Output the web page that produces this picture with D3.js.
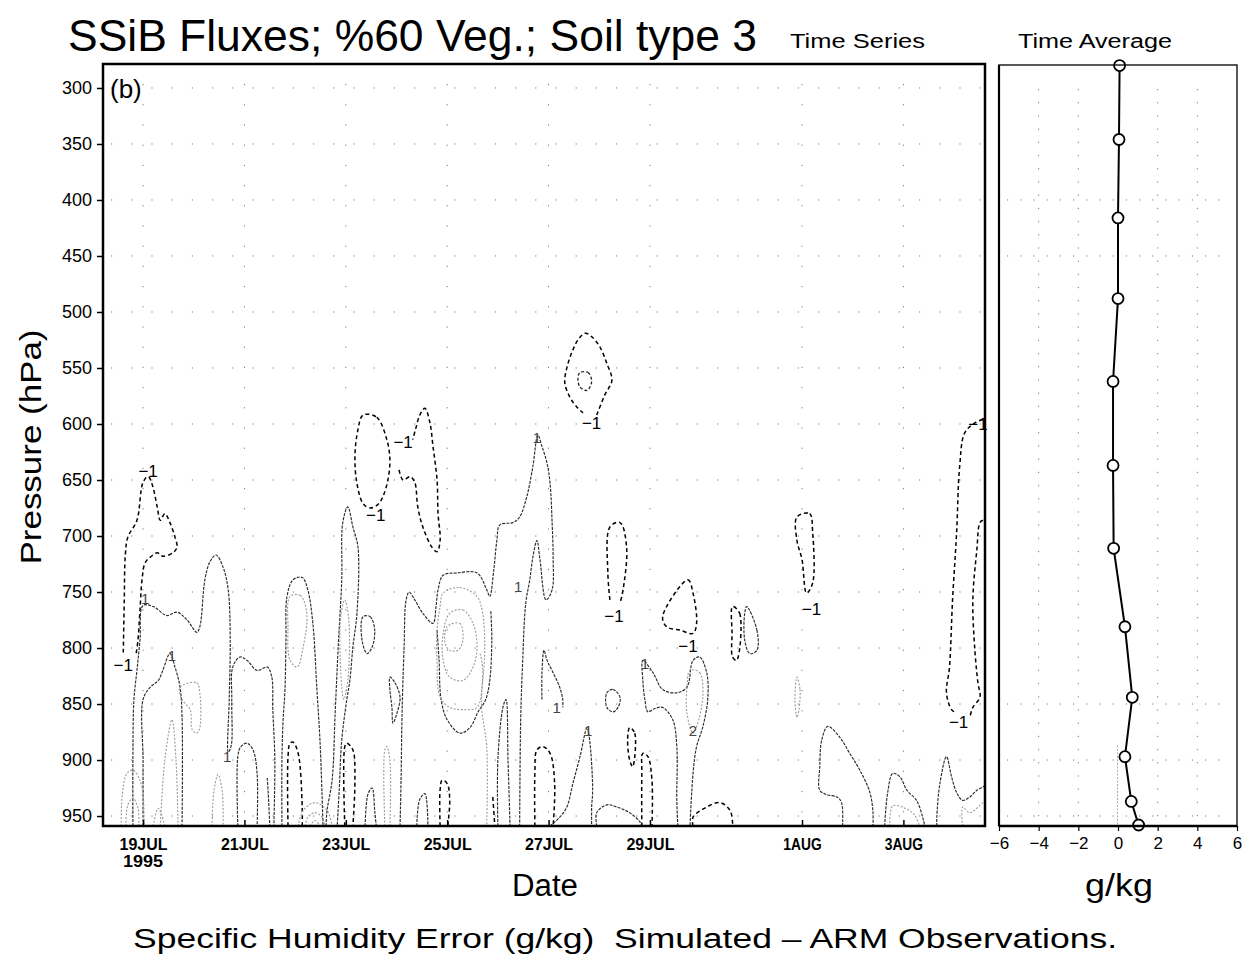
<!DOCTYPE html>
<html><head><meta charset="utf-8">
<script src="https://cdn.jsdelivr.net/npm/d3@7"></script>
<style>body{margin:0;background:#fff}svg{display:block}text{font-family:"Liberation Sans",Arial,sans-serif;fill:#000}</style>
</head><body><svg id="c" width="1252" height="972"></svg>
<script>
// ---------- data ----------
const pressureTicks = [300,350,400,450,500,550,600,650,700,750,800,850,900,950];
const dateTickDays = [19,21,23,25,27,29,32,34];           // day of July 1995 (32 = 1 Aug)
const dateTickLabels = ["19JUL","21JUL","23JUL","25JUL","27JUL","29JUL","1AUG","3AUG"];
const profileLevels = [280,346,416,488,562,637,711,781,844,897,937,958];
const profileValues = [0.08,0.05,0.0,0.0,-0.25,-0.25,-0.22,0.35,0.72,0.35,0.67,1.04];
const profileTicks = [-6,-4,-2,0,2,4,6];
const profileGridX = [-4,-2,2,4];
const profileGridP = [400,450,850,900,950];

// contour lines of the error field: [day of July, hPa]
const contours = [
 {level:-1, pts:[[18.61,804],[18.63,757],[18.65,717],[18.70,701],[18.88,686],[19.00,652],[19.10,647],[19.18,654],[19.28,674],[19.34,686],[19.43,680],[19.53,688],[19.63,701],[19.67,710],[19.59,715],[19.39,718],[19.28,715],[19.14,719],[19.04,724],[18.98,739],[18.94,766],[18.90,793],[18.86,806]]},
 {level:1, pts:[[18.80,959],[18.80,900],[18.82,846],[18.88,820],[18.94,793],[19.00,762],[19.20,763],[19.47,771],[19.67,768],[19.87,775],[20.06,786],[20.12,781],[20.22,739],[20.32,723],[20.44,717],[20.58,728],[20.68,748],[20.72,793],[20.70,846],[20.68,893],[20.74,887],[20.75,846],[20.77,817],[20.91,808],[21.05,811],[21.25,820],[21.45,817],[21.54,826],[21.56,855],[21.60,900],[21.58,959]]},
 {level:1, pts:[[19.00,959],[19.00,900],[19.00,846],[19.14,835],[19.30,829],[19.39,820],[19.53,805],[19.63,817],[19.73,835],[19.77,862],[19.77,959]]},
 {level:2, closed:true, pts:[[19.73,835],[20.06,831],[20.12,840],[20.12,871],[20.06,876],[19.97,873],[19.93,855],[19.77,846]]},
 {level:2, pts:[[18.57,959],[18.59,931],[18.68,912],[18.80,909],[18.92,916],[19.00,931],[19.02,959]]},
 {level:2, pts:[[18.66,959],[18.70,940],[18.80,934],[18.90,943],[18.92,959]]},
 {level:2, pts:[[19.20,959],[19.30,943],[19.43,959]]},
 {level:2, pts:[[19.34,959],[19.43,900],[19.57,864],[19.65,900],[19.69,959]]},
 {level:2, pts:[[20.36,959],[20.40,927],[20.48,913],[20.56,927],[20.58,959]]},
 {level:1, pts:[[20.87,959],[20.87,897],[20.93,888],[21.05,885],[21.17,891],[21.25,912],[21.25,959]]},
 {level:1, pts:[[21.45,916],[21.47,930],[21.50,959]]},
 {level:-1, pts:[[21.86,959],[21.86,897],[21.90,885],[21.96,884],[22.06,894],[22.14,942],[22.14,959]]},
 {level:1, pts:[[21.74,959],[21.74,900],[21.76,867],[21.80,837],[21.82,793],[21.84,754],[21.96,739],[22.14,737],[22.25,748],[22.35,778],[22.43,837],[22.49,882],[22.53,929],[22.55,959]]},
 {level:2, closed:true, pts:[[21.90,754],[22.10,753],[22.23,769],[22.16,799],[22.04,817],[21.90,811],[21.86,781]]},
 {level:2, pts:[[22.20,959],[22.25,951],[22.39,947],[22.53,951],[22.59,959]]},
 {level:2, pts:[[22.29,959],[22.39,954],[22.49,959]]},
 {level:2, pts:[[22.06,959],[22.16,945],[22.39,938],[22.63,945],[22.73,959]]},
 {level:-1, closed:true, pts:[[23.34,592],[23.61,594],[23.81,614],[23.87,632],[23.83,650],[23.73,665],[23.63,672],[23.48,675],[23.34,671],[23.22,653],[23.18,629],[23.24,605]]},
 {level:-1, pts:[[24.05,641],[24.13,650],[24.27,647],[24.36,652],[24.42,674],[24.52,692],[24.70,710],[24.80,714],[24.86,704],[24.82,680],[24.80,650],[24.72,620],[24.66,599],[24.56,586],[24.46,592],[24.38,604],[24.32,614]]},
 {level:1, pts:[[22.61,959],[22.63,945],[22.73,918],[22.79,858],[22.85,799],[22.92,739],[22.94,688],[23.04,674],[23.14,692],[23.24,710],[23.22,769],[23.14,799],[23.08,829],[23.02,846],[22.92,882],[22.87,927],[22.83,959]]},
 {level:2, closed:true, pts:[[22.90,772],[22.98,757],[23.06,775],[23.04,829],[22.96,846],[22.90,820]]},
 {level:-1, pts:[[22.98,959],[22.98,888],[23.02,885],[23.14,891],[23.18,918],[23.14,959]]},
 {level:1, closed:true, pts:[[23.34,772],[23.48,772],[23.57,784],[23.52,799],[23.42,805],[23.32,793]]},
 {level:1, pts:[[23.38,959],[23.44,930],[23.52,925],[23.57,945],[23.60,959]]},
 {level:2, pts:[[23.77,959],[23.77,891],[23.81,888],[23.87,900],[23.87,959]]},
 {level:1, closed:true, pts:[[23.87,826],[23.97,831],[24.07,844],[24.01,858],[23.93,867],[23.91,853],[23.87,837]]},
 {level:1, pts:[[24.40,959],[24.46,935],[24.56,930],[24.62,959]]},
 {level:1, pts:[[24.07,959],[24.09,918],[24.11,858],[24.15,799],[24.19,757],[24.25,750],[24.36,757],[24.52,769],[24.72,778],[24.78,763],[24.82,748],[24.92,735],[25.19,733],[25.59,733],[25.78,748],[25.84,754],[25.92,730],[25.98,704],[26.04,690],[26.30,688],[26.43,683],[26.57,665],[26.69,638],[26.79,610],[26.87,620],[26.97,635],[27.03,653],[27.07,688],[27.09,719],[27.07,748],[26.95,757],[26.83,721],[26.77,704],[26.69,719],[26.63,739],[26.55,760],[26.49,811],[26.45,864],[26.43,959]]},
 {level:1, pts:[[24.80,784],[24.84,811],[24.88,846],[25.00,864],[25.25,876],[25.45,871],[25.61,857],[25.76,846],[25.84,829],[25.88,793],[25.86,766]]},
 {level:2, closed:true, pts:[[24.92,751],[25.25,746],[25.59,754],[25.70,769],[25.74,799],[25.70,829],[25.59,853],[25.31,855],[25.05,853],[24.86,844],[24.80,813],[24.80,784],[24.86,763]]},
 {level:2, closed:true, pts:[[25.05,769],[25.31,766],[25.51,778],[25.59,799],[25.51,817],[25.31,829],[25.05,826],[24.92,811],[24.92,787]]},
 {level:2, closed:true, pts:[[25.00,781],[25.25,778],[25.31,793],[25.21,802],[25.05,802],[24.96,796]]},
 {level:2, pts:[[25.65,805],[25.70,817],[25.68,853],[25.78,888],[25.78,959]]},
 {level:-1, pts:[[24.86,959],[24.86,927],[24.90,918],[25.00,921],[25.05,936],[25.01,959]]},
 {level:-1, pts:[[25.90,933],[25.94,959]]},
 {level:1, pts:[[26.00,959],[26.00,900],[26.10,853],[26.16,846],[26.20,900],[26.24,959]]},
 {level:-1, pts:[[26.73,959],[26.73,912],[26.77,891],[26.89,888],[27.03,894],[27.12,921],[27.09,959]]},
 {level:1, pts:[[26.87,846],[26.87,822],[26.91,802],[26.97,811],[27.09,822],[27.22,835],[27.28,846],[27.28,853]]},
 {level:1, pts:[[27.03,959],[27.22,951],[27.36,942],[27.48,921],[27.62,897],[27.76,871],[27.81,882],[27.87,927],[27.85,942],[27.85,959]]},
 {level:-1, pts:[[27.95,592],[28.11,574],[28.25,561],[28.15,546],[28.01,531],[27.85,522],[27.72,519],[27.58,525],[27.46,536],[27.36,550],[27.32,563],[27.42,576],[27.56,585],[27.68,590]]},
 {level:-2, closed:true, pts:[[27.62,554],[27.78,554],[27.85,562],[27.76,570],[27.62,567],[27.58,559]]},
 {level:-1, pts:[[28.21,757],[28.17,733],[28.21,692],[28.41,688],[28.54,710],[28.47,748],[28.41,760]]},
 {level:1, closed:true, pts:[[28.15,840],[28.27,837],[28.41,844],[28.37,853],[28.27,857],[28.15,853]]},
 {level:1, pts:[[27.95,959],[27.95,947],[28.15,940],[28.35,942],[28.60,947],[28.80,955],[28.84,959]]},
 {level:-1, closed:true, pts:[[28.60,871],[28.70,876],[28.66,906],[28.60,900],[28.56,882]]},
 {level:-1, pts:[[28.84,959],[28.84,912],[28.86,894],[28.96,897],[29.04,918],[29.04,959]]},
 {level:1, pts:[[29.55,959],[29.53,936],[29.53,888],[29.45,864],[29.25,853],[29.10,854],[28.96,857],[28.90,846],[28.86,829],[28.86,811],[29.06,822],[29.25,837],[29.53,840],[29.73,835],[29.85,811],[29.98,808],[30.12,822],[30.14,846],[30.04,871],[29.92,888],[29.85,912],[29.79,959]]},
 {level:2, closed:true, pts:[[29.79,820],[29.98,822],[30.04,846],[29.85,876],[29.73,858],[29.73,835]]},
 {level:-1, closed:true, pts:[[29.25,772],[29.75,739],[29.85,751],[29.92,778],[29.85,787],[29.59,784],[29.33,781]]},
 {level:-1, pts:[[29.85,959],[29.85,951],[30.12,942],[30.38,938],[30.58,945],[30.63,956],[30.63,959]]},
 {level:-1, closed:true, pts:[[30.63,763],[30.77,769],[30.71,811],[30.63,808],[30.62,787]]},
 {level:1, closed:true, pts:[[30.91,763],[31.11,784],[31.11,802],[30.97,805],[30.87,793],[30.87,769]]},
 {level:-1, closed:true, pts:[[31.90,683],[32.15,680],[32.21,697],[32.21,742],[32.09,751],[32.00,721],[31.90,704]]},
 {level:2, closed:true, pts:[[31.90,826],[31.96,837],[31.94,855],[31.90,862],[31.86,846]]},
 {level:1, pts:[[32.80,959],[32.78,938],[32.69,933],[32.49,931],[32.35,927],[32.35,906],[32.39,882],[32.51,870],[32.75,880],[32.94,894],[33.14,909],[33.34,929],[33.40,947],[33.40,959]]},
 {level:1, pts:[[33.63,959],[33.69,929],[33.79,912],[33.93,915],[34.07,927],[34.26,936],[34.38,951],[34.42,959]]},
 {level:2, pts:[[33.73,959],[33.79,941],[34.03,943],[34.22,949],[34.32,959]]},
 {level:1, pts:[[34.66,959],[34.66,951],[34.72,921],[34.85,897],[34.95,915],[35.05,929],[35.17,936],[35.31,933],[35.45,927],[35.57,924],[35.61,923]]},
 {level:2, pts:[[35.17,959],[35.17,942],[35.31,947],[35.57,938],[35.61,937]]},
 {level:-1, pts:[[35.57,596],[35.41,599],[35.21,608],[35.11,638],[35.05,697],[34.97,757],[34.91,817],[34.85,840],[34.95,855],[35.05,858]]},
 {level:-1, pts:[[35.57,686],[35.51,688],[35.45,712],[35.37,757],[35.41,802],[35.47,831],[35.51,844],[35.37,853],[35.31,862]]}
];
const contourLabels = [
 {t:"−1", d:19.10, p:642}, {t:"−1", d:18.61, p:815}, {t:"−1", d:24.13, p:616},
 {t:"−1", d:23.59, p:681}, {t:"−1", d:27.85, p:599}, {t:"−1", d:28.29, p:771},
 {t:"−1", d:29.75, p:798}, {t:"−1", d:32.19, p:765}, {t:"−1", d:35.47, p:600},
 {t:"−1", d:35.09, p:866},
 {t:"1", d:19.04, p:755}, {t:"1", d:19.57, p:806}, {t:"1", d:20.66, p:896},
 {t:"1", d:26.77, p:612}, {t:"1", d:26.40, p:745}, {t:"1", d:27.16, p:853},
 {t:"1", d:27.78, p:873}, {t:"1", d:28.90, p:813}, {t:"2", d:29.85, p:873}
];

// ---------- layout ----------
const svg = d3.select("#c");
const toDate = d => new Date(Date.UTC(1995,6,0) + d*864e5);
const M = {l:103, r:985, t:64, b:826};
const x = d3.scaleUtc().domain([toDate(18.21), toDate(35.61)]).range([M.l, M.r]);
const y = d3.scaleLinear().domain([278.6, 958.9]).range([M.t, M.b]);
const P = {l:999, r:1237};
const px = d3.scaleLinear().domain([-6,6]).range([P.l, P.r]);

svg.append("defs").append("clipPath").attr("id","clipMain")
  .append("rect").attr("x",M.l).attr("y",M.t).attr("width",M.r-M.l).attr("height",M.b-M.t);

// grid (dotted)
const grid = svg.append("g").attr("stroke","#777").attr("stroke-width",1).attr("stroke-dasharray","1.2,19");
grid.selectAll(".hg").data(pressureTicks).join("line")
  .attr("x1",M.l+8).attr("x2",M.r).attr("y1",d=>y(d)).attr("y2",d=>y(d));
grid.selectAll(".vg").data(dateTickDays).join("line")
  .attr("x1",d=>x(toDate(d))).attr("x2",d=>x(toDate(d))).attr("y1",M.t+20).attr("y2",M.b);

// contours
const styles = {
  "1":  {s:"#2b2b2b", w:1.15, da:"3,1.2"},
  "-1": {s:"#000",    w:1.5, da:"4,3"},
  "2":  {s:"#9a9a9a", w:1.1, da:"2,1.6"},
  "-2": {s:"#222",    w:1.3, da:"3,2"}
};
const cg = svg.append("g").attr("clip-path","url(#clipMain)").attr("fill","none");
contours.forEach(c => {
  const st = styles[String(c.level)];
  const line = d3.line().x(d=>x(toDate(d[0]))).y(d=>y(d[1]))
    .curve(c.closed ? d3.curveCatmullRomClosed.alpha(0.5) : d3.curveCatmullRom.alpha(0.5));
  cg.append("path").attr("d", line(c.pts))
    .attr("stroke", st.s).attr("stroke-width", st.w).attr("stroke-dasharray", st.da)
    .attr("stroke-linejoin","round");
});
svg.append("g").selectAll("text").data(contourLabels).join("text")
  .attr("x", d=>x(toDate(d.d))).attr("y", d=>y(d.p)+6)
  .attr("text-anchor","middle").attr("font-size", d=>d.t==="−1"?17:15)
  .style("fill", d=>d.t==="−1"?"#000":"#444")
  .text(d=>d.t);

// main frame
svg.append("rect").attr("x",M.l).attr("y",M.t).attr("width",M.r-M.l).attr("height",M.b-M.t)
  .attr("fill","none").attr("stroke","#000").attr("stroke-width",2.5);

// y axis
const yAxis = svg.append("g").attr("transform",`translate(${M.l},0)`)
  .call(d3.axisLeft(y).tickValues(pressureTicks).tickSize(6).tickPadding(5));
yAxis.select(".domain").remove();
yAxis.selectAll("line").attr("stroke-width",1.5);
yAxis.selectAll("text").attr("font-size",18).attr("font-family","Liberation Sans, Arial, sans-serif");

// x axis
const xAxis = svg.append("g").attr("transform",`translate(0,${M.b})`)
  .call(d3.axisBottom(x).tickValues(dateTickDays.map(toDate)).tickSize(-6)
  .tickFormat((d,i)=>dateTickLabels[i]));
xAxis.select(".domain").remove();
xAxis.selectAll("line").attr("stroke-width",1.5);
xAxis.selectAll("text").attr("y",24).attr("dy",0).attr("font-size",17).attr("font-weight","bold")
  .attr("font-family","Liberation Sans, Arial, sans-serif")
  .each(function(){ const n=this.textContent.length; d3.select(this).attr("textLength", n*9.6).attr("lengthAdjust","spacingAndGlyphs"); });
svg.append("text").attr("x",x(toDate(19))).attr("y",867).attr("text-anchor","middle")
  .attr("font-size",17).attr("font-weight","bold").attr("textLength",40).attr("lengthAdjust","spacingAndGlyphs").text("1995");

// profile panel grid
const pg = svg.append("g").attr("stroke","#777").attr("stroke-width",1).attr("stroke-dasharray","1.2,12");
pg.selectAll(".a").data(profileGridX).join("line")
  .attr("x1",d=>px(d)).attr("x2",d=>px(d)).attr("y1",M.t+25).attr("y2",M.b);
pg.selectAll(".b").data(profileGridP).join("line")
  .attr("x1",P.l+8).attr("x2",P.r-8).attr("y1",d=>y(d)).attr("y2",d=>y(d));
svg.append("line").attr("x1",px(0)-0.5).attr("x2",px(0)-0.5).attr("y1",y(887)).attr("y2",M.b)
  .attr("stroke","#aaa").attr("stroke-dasharray","2,1.5");

// profile line + markers
const pts = profileLevels.map((p,i)=>[profileValues[i],p]);
svg.append("path").attr("d", d3.line().x(d=>px(d[0])).y(d=>y(d[1]))(pts))
  .attr("fill","none").attr("stroke","#000").attr("stroke-width",2);
svg.append("g").selectAll("circle").data(pts).join("circle")
  .attr("cx",d=>px(d[0])).attr("cy",d=>y(d[1])).attr("r",5.5)
  .attr("fill","#fff").attr("stroke","#000").attr("stroke-width",1.8);

// profile frame
svg.append("rect").attr("x",P.l).attr("y",M.t+1).attr("width",P.r-P.l).attr("height",M.b-M.t-1)
  .attr("fill","none").attr("stroke","#000").attr("stroke-width",1.3);
svg.append("line").attr("x1",P.l).attr("x2",P.l).attr("y1",M.t+1).attr("y2",M.b).attr("stroke","#000").attr("stroke-width",2.2);
svg.append("line").attr("x1",P.l).attr("x2",P.r).attr("y1",M.b).attr("y2",M.b).attr("stroke","#000").attr("stroke-width",2.5);

const pAxis = svg.append("g").attr("transform",`translate(0,${M.b})`)
  .call(d3.axisBottom(px).tickValues(profileTicks).tickSize(5)
  .tickFormat(d=> d<0 ? "−"+Math.abs(d) : String(d)));
pAxis.select(".domain").remove();
pAxis.selectAll("line").attr("stroke-width",1.2);
pAxis.selectAll("text").attr("y",23).attr("dy",0).attr("font-size",17)
  .attr("font-family","Liberation Sans, Arial, sans-serif");

// texts
svg.append("text").attr("x",68).attr("y",51).attr("font-size",44)
  .attr("textLength",689).attr("lengthAdjust","spacingAndGlyphs")
  .text("SSiB Fluxes; %60 Veg.; Soil type 3");
svg.append("text").attr("x",790).attr("y",48).attr("font-size",20)
  .attr("textLength",135).attr("lengthAdjust","spacingAndGlyphs").text("Time Series");
svg.append("text").attr("x",1018).attr("y",48).attr("font-size",20)
  .attr("textLength",154).attr("lengthAdjust","spacingAndGlyphs").text("Time Average");
svg.append("text").attr("x",110).attr("y",98).attr("font-size",26).text("(b)");
svg.append("text").attr("transform","translate(41,447) rotate(-90)").attr("text-anchor","middle")
  .attr("font-size",30).attr("textLength",235).attr("lengthAdjust","spacingAndGlyphs").text("Pressure (hPa)");
svg.append("text").attr("x",545).attr("y",896).attr("text-anchor","middle").attr("font-size",31)
  .attr("textLength",66).attr("lengthAdjust","spacingAndGlyphs").text("Date");
svg.append("text").attr("x",1119).attr("y",896).attr("text-anchor","middle").attr("font-size",32)
  .attr("textLength",68).attr("lengthAdjust","spacingAndGlyphs").text("g/kg");
svg.append("text").attr("x",133).attr("y",948).attr("font-size",27)
  .attr("textLength",984).attr("lengthAdjust","spacingAndGlyphs")
  .text("Specific Humidity Error (g/kg)\u00a0\u00a0Simulated \u2013 ARM Observations.");
</script></body></html>
